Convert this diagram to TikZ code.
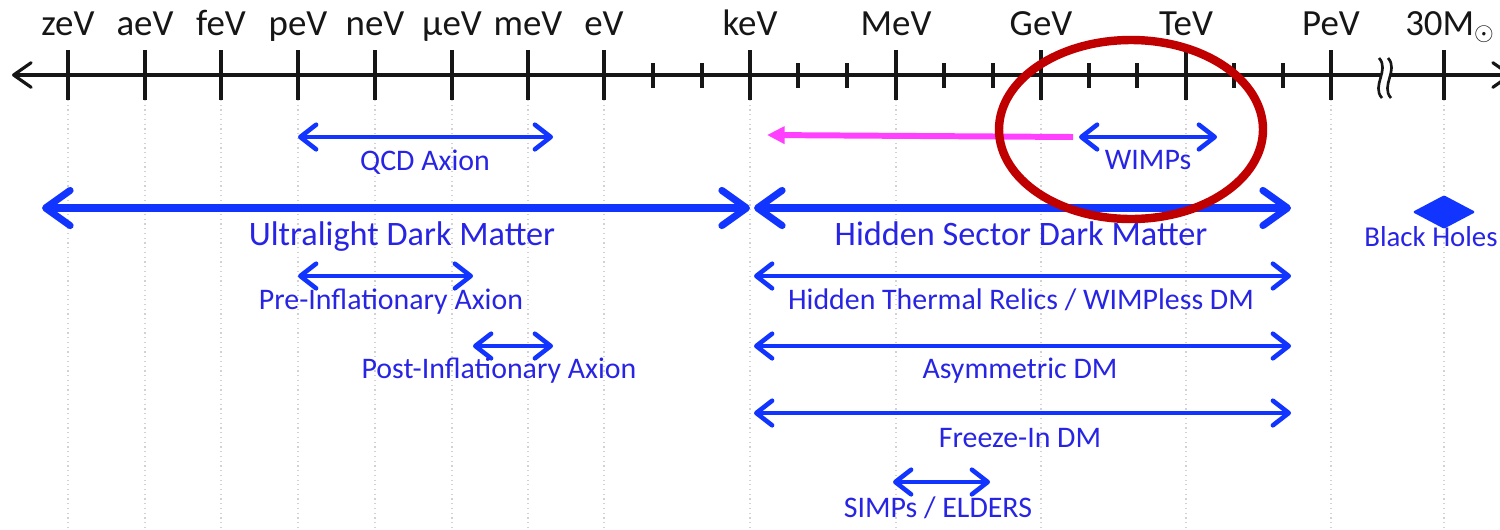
\documentclass[tikz,border=0pt]{standalone}
\usepackage{fontspec}
\setmainfont{Carlito}
\usetikzlibrary{arrows.meta}
\definecolor{axisblack}{RGB}{22,22,22}
\definecolor{rangeblue}{RGB}{18,52,255}
\definecolor{labelblue}{RGB}{40,36,228}
\definecolor{hintpink}{RGB}{255,64,255}
\definecolor{ringred}{RGB}{192,0,0}
\definecolor{gridgray}{RGB}{210,210,210}
\begin{document}
\begin{tikzpicture}[x=0.02cm,y=-0.02cm,
  scalelabel/.style={font=\fontsize{21}{24}\selectfont, text=axisblack, anchor=base, inner sep=0pt},
  smalllabel/.style={font=\fontsize{17}{19}\selectfont, text=labelblue, anchor=base, inner sep=0pt},
  biglabel/.style={font=\fontsize{19.5}{22}\selectfont, text=labelblue, anchor=base, inner sep=0pt},
  majortick/.style={draw=axisblack, line width=2.3pt},
  minortick/.style={draw=axisblack, line width=1.9pt},
  gridline/.style={draw=gridgray, line width=0.7pt, dotted},
  rangethin/.style={draw=rangeblue, line width=2.6pt,
    arrows={Straight Barb[length=9pt,width=14pt,round]-Straight Barb[length=9pt,width=14pt,round]}},
  rangethick/.style={draw=rangeblue, line width=4pt,
    arrows={Straight Barb[length=14pt,width=20pt,round]-Straight Barb[length=14pt,width=20pt,round]}},
  pointer/.style={draw=hintpink, line width=3.4pt, arrows={-Triangle[length=10pt,width=9.5pt]}},
  ring/.style={draw=ringred, line width=4.8pt},
]
\useasboundingbox (0,0) rectangle (1500,529);
\clip (0,0) rectangle (1500,529);

% vertical dotted guides under the decade ticks
\foreach \x in {68,145,221,298,375,452,528,604,750,896,1041,1186,1331,1444}
  \draw[gridline] (\x,100) -- (\x,529);

% energy axis
\coordinate (axL) at (12,75);
\coordinate (axR) at (1512,75);
\draw[draw=axisblack, line width=1.8pt,
  arrows={Straight Barb[length=10pt,width=14pt,round]-Straight Barb[length=10pt,width=14pt,round]}] (axL) -- (axR);

% major ticks
\foreach \x in {68,145,221,298,375,452,528,604,750,896,1041,1186,1331,1444}
  \draw[majortick] (\x,50) -- (\x,100);

% tick labels
\foreach \x/\lab/\nm in {68/zeV/zev,145/aeV/aev,221/feV/fev,298/peV/pev,375/neV/nev,
    452/μeV/uev,528/meV/mev,604/eV/ev,750/keV/kev,896/MeV/mev2,1041/GeV/gev,
    1186/TeV/tev,1331/PeV/pev2}
  \node[scalelabel] (lab-\nm) at (\x,35) {\lab};
\node[scalelabel] (lab-msun) at (1450,35) {30M$_{\odot}$};

% minor ticks
\foreach \x in {653,702,798,847,944,993,1089,1137,1234,1283}
  \draw[minortick] (\x,63) -- (\x,88);

% axis break
\fill[white] (1379,58) .. controls (1390,70) and (1371,86) .. (1382,98)
  -- (1391,98) .. controls (1380,86) and (1399,70) .. (1388,58) -- cycle;
\draw[draw=axisblack, line width=1.5pt] (1379,58) .. controls (1390,70) and (1371,86) .. (1382,98);
\draw[draw=axisblack, line width=1.5pt] (1388,58) .. controls (1399,70) and (1380,86) .. (1391,98);

% range end points
\coordinate (qcdL) at (298,137);   \coordinate (qcdR) at (553,137);
\coordinate (wimpL) at (1079,137); \coordinate (wimpR) at (1217,137);
\coordinate (ulL) at (42,208);     \coordinate (ulR) at (750,208);
\coordinate (hsL) at (754,208);    \coordinate (hsR) at (1291,208);
\coordinate (preL) at (298,276);   \coordinate (preR) at (473,276);
\coordinate (htL) at (754,276);    \coordinate (htR) at (1291,276);
\coordinate (postL) at (473,346);  \coordinate (postR) at (553,346);
\coordinate (asL) at (754,346);    \coordinate (asR) at (1291,346);
\coordinate (fiL) at (754,413);    \coordinate (fiR) at (1291,413);
\coordinate (siL) at (893,482);    \coordinate (siR) at (990,482);
\coordinate (ptrStart) at (1073,137);
\coordinate (ptrEnd) at (767,135);
\coordinate (bh) at (1444,212);

% ranges
\draw[rangethin] (qcdL) -- (qcdR);
\draw[rangethin] (wimpL) -- (wimpR);
\draw[rangethick] (ulL) -- (ulR);
\draw[rangethick] (hsL) -- (hsR);
\draw[rangethin] (preL) -- (preR);
\draw[rangethin] (htL) -- (htR);
\draw[rangethin] (postL) -- (postR);
\draw[rangethin] (asL) -- (asR);
\draw[rangethin] (fiL) -- (fiR);
\draw[rangethin] (siL) -- (siR);
\fill[rangeblue, rounded corners=1pt] ([yshift=-9.5]bh) -- ([xshift=18]bh) -- ([yshift=9.5]bh) -- ([xshift=-18]bh) -- cycle;

% range names
\node[smalllabel] (t-qcd) at (425,170) {QCD Axion};
\node[smalllabel] (t-wimp) at (1148,169) {WIMPs};
\node[biglabel] (t-ul) at (402,245) {Ultralight Dark Matter};
\node[biglabel] (t-hs) at (1021,245) {Hidden Sector Dark Matter};
\node[biglabel, font=\fontsize{16.4}{19}\selectfont, anchor=base west] (t-bh) at (1364,246) {Black Holes};
\node[smalllabel] (t-pre) at (391,309) {Pre-Inflationary Axion};
\node[smalllabel] (t-ht) at (1021,309) {Hidden Thermal Relics / WIMPless DM};
\node[smalllabel] (t-post) at (499,378) {Post-Inflationary Axion};
\node[smalllabel] (t-as) at (1020,378) {Asymmetric DM};
\node[smalllabel] (t-fi) at (1020,447) {Freeze-In DM};
\node[smalllabel] (t-si) at (938,517) {SIMPs / ELDERS};

% pointer and highlight ring
\draw[pointer] (ptrStart) -- (ptrEnd);
\draw[ring] (1131,129.5) ellipse [x radius=132, y radius=89.5];
\end{tikzpicture}
\end{document}
